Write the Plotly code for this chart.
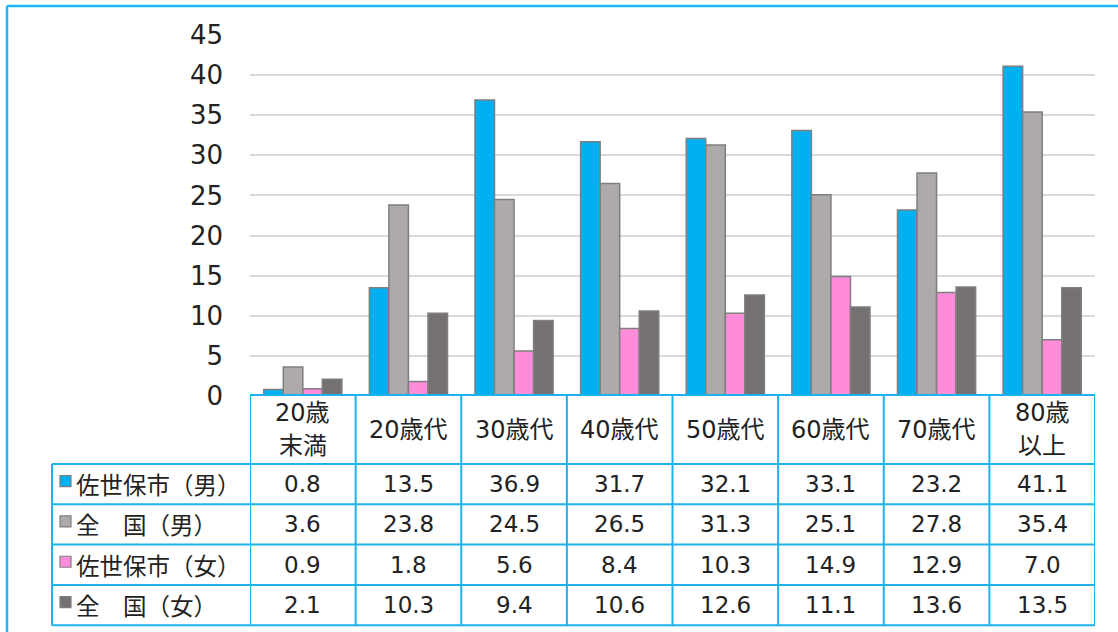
import plotly.graph_objects as go

categories = ["20歳未満", "20歳代", "30歳代", "40歳代", "50歳代", "60歳代", "70歳代", "80歳以上"]
header_labels = [["20歳", "末満"], ["20歳代"], ["30歳代"], ["40歳代"], ["50歳代"], ["60歳代"], ["70歳代"], ["80歳", "以上"]]
series_names = ["佐世保市（男）", "全　国（男）", "佐世保市（女）", "全　国（女）"]
sasebo_m = [0.8, 13.5, 36.9, 31.7, 32.1, 33.1, 23.2, 41.1]
zenkoku_m = [3.6, 23.8, 24.5, 26.5, 31.3, 25.1, 27.8, 35.4]
sasebo_f = [0.9, 1.8, 5.6, 8.4, 10.3, 14.9, 12.9, 7.0]
zenkoku_f = [2.1, 10.3, 9.4, 10.6, 12.6, 11.1, 13.6, 13.5]
y_ticks = [0, 5, 10, 15, 20, 25, 30, 35, 40, 45]

series_values = [sasebo_m, zenkoku_m, sasebo_f, zenkoku_f]
colors = ["#00B0F0", "#AEAAAA", "#FF8CDA", "#767171"]

W, H = 1118, 632
PL, PR, PT, PB = 250, 1095, 35, 396  # plot area pixel box

def px_x(px):
    return (px - PL) / (PR - PL)

def px_y(py):
    return (PB - py) / (PB - PT)

fig = go.Figure()
for name, vals, col in zip(series_names, series_values, colors):
    fig.add_trace(go.Bar(
        x=list(range(len(categories))), y=vals, name=name,
        marker=dict(color=col, line=dict(color="#7F7F7F", width=1.5)),
        hoverinfo="y",
    ))

line_col = "#1DB2EC"
shapes = []
annotations = []

# outer frame (top and left)
shapes.append(dict(type="line", xref="paper", yref="paper",
                   x0=px_x(7), x1=px_x(W + 5), y0=px_y(6), y1=px_y(6),
                   line=dict(color="#1EB6F2", width=2.5)))
shapes.append(dict(type="line", xref="paper", yref="paper",
                   x0=px_x(7), x1=px_x(7), y0=px_y(6), y1=px_y(H + 5),
                   line=dict(color="#1EB6F2", width=2.5)))

# table geometry
t_top = 395
h_bot = 464
row_h = 40.3
n_rows = len(series_names)
row_lines = [h_bot + row_h * k for k in range(n_rows + 1)]
t_left = 52
n_cat = len(categories)

# horizontal lines
shapes.append(dict(type="line", xref="x", yref="paper", x0=-0.5, x1=n_cat - 0.5,
                   y0=px_y(t_top), y1=px_y(t_top), line=dict(color=line_col, width=2)))
for yl in row_lines:
    shapes.append(dict(type="line", xref="paper", yref="paper", x0=px_x(t_left), x1=1,
                       y0=px_y(yl), y1=px_y(yl), line=dict(color=line_col, width=2)))
# vertical lines
for i in range(n_cat + 1):
    shapes.append(dict(type="line", xref="x", yref="paper", x0=i - 0.5, x1=i - 0.5,
                       y0=px_y(t_top), y1=px_y(row_lines[-1]), line=dict(color=line_col, width=2)))
shapes.append(dict(type="line", xref="paper", yref="paper", x0=px_x(t_left), x1=px_x(t_left),
                   y0=px_y(h_bot), y1=px_y(row_lines[-1]), line=dict(color=line_col, width=2)))

txt_col = "#222222"
num_font = dict(family="DejaVu Sans, Noto Sans CJK JP", size=23, color=txt_col)
hdr_font = dict(family="DejaVu Sans, Noto Sans CJK JP", size=24, color=txt_col)
lbl_font = dict(family="Noto Sans CJK JP", size=23.5, color=txt_col)

# header labels
hc = (t_top + h_bot) / 2
for i, lines in enumerate(header_labels):
    if len(lines) == 1:
        ys = [hc]
    else:
        ys = [hc - 16.5, hc + 16.5]
    for ln, yy in zip(lines, ys):
        annotations.append(dict(xref="x", yref="paper", x=i, y=px_y(yy), text=ln,
                                showarrow=False, font=hdr_font, xanchor="center", yanchor="middle"))

# rows
for r, (name, vals, col) in enumerate(zip(series_names, series_values, colors)):
    yc = (row_lines[r] + row_lines[r + 1]) / 2
    shapes.append(dict(type="rect", xref="paper", yref="paper",
                       x0=px_x(60), x1=px_x(71), y0=px_y(yc - 8.5), y1=px_y(yc + 2.5),
                       fillcolor=col, line=dict(color="#7F7F7F", width=1.2)))
    annotations.append(dict(xref="paper", yref="paper", x=px_x(74), y=px_y(yc), text=name,
                            showarrow=False, font=lbl_font, xanchor="left", yanchor="middle"))
    for i, v in enumerate(vals):
        annotations.append(dict(xref="x", yref="paper", x=i, y=px_y(yc), text=f"{v:.1f}",
                                showarrow=False, font=num_font, xanchor="center", yanchor="middle"))

fig.update_layout(
    width=W, height=H,
    margin=dict(l=PL, r=W - PR, t=PT, b=H - PB, pad=0),
    paper_bgcolor="white", plot_bgcolor="white",
    barmode="group", bargap=0.26, bargroupgap=0,
    showlegend=False,
    shapes=shapes, annotations=annotations,
    xaxis=dict(range=[-0.5, n_cat - 0.5], showticklabels=False, showgrid=False,
               zeroline=False, showline=False, ticks=""),
    yaxis=dict(range=[0, 45], tickvals=y_ticks, showgrid=True, gridcolor="#D9D9D9",
               gridwidth=1.5, zeroline=False, showline=False, ticks="",
               ticklabelstandoff=26,
               tickfont=dict(family="DejaVu Sans", size=26, color=txt_col)),
)

fig.write_html("out.html")
